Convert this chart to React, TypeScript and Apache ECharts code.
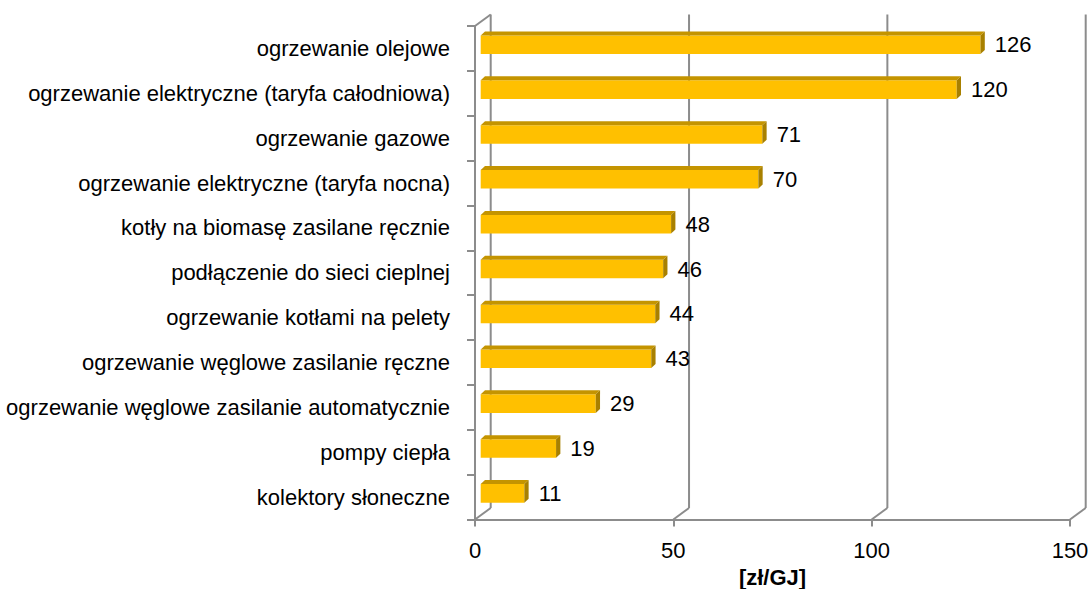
import React, { useEffect, useRef } from "react";
import * as echarts from "echarts";

const categories = [
  "ogrzewanie olejowe",
  "ogrzewanie elektryczne (taryfa całodniowa)",
  "ogrzewanie gazowe",
  "ogrzewanie elektryczne (taryfa nocna)",
  "kotły na biomasę zasilane ręcznie",
  "podłączenie do sieci cieplnej",
  "ogrzewanie kotłami na pelety",
  "ogrzewanie węglowe zasilanie ręczne",
  "ogrzewanie węglowe zasilanie automatycznie",
  "pompy ciepła",
  "kolektory słoneczne",
];
const values = [126, 120, 71, 70, 48, 46, 44, 43, 29, 19, 11];
const xTicks = [0, 50, 100, 150];
const axisTitle = "[zł/GJ]";

const FONT = "'Liberation Sans Narrow', 'Arial Narrow', 'Liberation Sans', Arial, sans-serif";
const FS = 22;
const LINE = "#8c8c8c";
const WALL_DX = 15.7;
const WALL_DY = -11.5;
const BAR_DX = 4.3;
const BAR_DY = -4;

export default function App() {
  const ref = useRef<HTMLDivElement>(null);
  useEffect(() => {
    if (!ref.current) return;
    const chart = echarts.init(ref.current, undefined, { renderer: "svg" });
    const option = {
      animation: false,
      backgroundColor: "#ffffff",
      grid: {
        left: 475,
        top: 26,
        width: 595,
        height: 493.5,
        containLabel: false,
        outerBoundsMode: "none",
      },
      xAxis: {
        type: "value",
        min: 0,
        max: 150,
        interval: 50,
        axisLine: { show: true, lineStyle: { color: LINE, width: 2 } },
        axisTick: { show: true, length: 7, lineStyle: { color: LINE, width: 2 } },
        splitLine: { show: false },
        axisLabel: { color: "#000", fontSize: FS, fontFamily: FONT, margin: 20 },
        name: axisTitle,
        nameLocation: "middle",
        nameGap: 47,
        nameMoveOverlap: false,
        nameTextStyle: { color: "#000", fontSize: 22, fontWeight: "bold", fontFamily: FONT },
      },
      yAxis: {
        type: "category",
        data: categories,
        inverse: true,
        axisLine: { show: true, lineStyle: { color: LINE, width: 2 } },
        axisTick: { show: true, length: 8, lineStyle: { color: LINE, width: 2 } },
        splitLine: { show: false },
        axisLabel: { color: "#000", fontSize: FS, fontFamily: FONT, margin: 25 },
      },
      series: [
        {
          type: "custom",
          z: 1,
          clip: false,
          silent: true,
          data: xTicks.map((v) => [v, 0]),
          encode: { x: 0, y: 1 },
          renderItem: (params: any, api: any) => {
            const cs = params.coordSys;
            const v = api.value(0);
            const x = api.coord([v, 0])[0];
            const top = cs.y;
            const bottom = cs.y + cs.height;
            const style = { stroke: LINE, lineWidth: 2, fill: "none" };
            const children: any[] = [
              { type: "line", shape: { x1: x + WALL_DX, y1: top + WALL_DY, x2: x + WALL_DX, y2: bottom + WALL_DY }, style },
              { type: "line", shape: { x1: x, y1: bottom, x2: x + WALL_DX, y2: bottom + WALL_DY }, style },
            ];
            if (v === 0) {
              children.push({ type: "line", shape: { x1: x, y1: top, x2: x + WALL_DX, y2: top + WALL_DY }, style });
            }
            return { type: "group", children };
          },
        },
        {
          type: "custom",
          z: 5,
          clip: false,
          silent: true,
          data: values.map((v, i) => [v, i]),
          encode: { x: 0, y: 1 },
          renderItem: (params: any, api: any) => {
            const v = api.value(0);
            const c = api.value(1);
            const p0 = api.coord([0, c]);
            const p1 = api.coord([v, c]);
            const band = api.size([0, 1])[1];
            const h = band * 0.414;
            const cy = p0[1] - 3.7;
            const x0 = p0[0] + 5.7;
            const x1 = p1[0] + 5.7;
            const yt = cy - h / 2;
            const yb = cy + h / 2;
            return {
              type: "group",
              children: [
                { type: "rect", shape: { x: x0, y: yt, width: x1 - x0, height: h }, style: { fill: "#FFC000" } },
                {
                  type: "polygon",
                  shape: { points: [[x0, yt], [x1, yt], [x1 + BAR_DX, yt + BAR_DY], [x0 + BAR_DX, yt + BAR_DY]] },
                  style: { fill: "#C49400" },
                },
                {
                  type: "polygon",
                  shape: { points: [[x1, yt], [x1 + BAR_DX, yt + BAR_DY], [x1 + BAR_DX, yb + BAR_DY], [x1, yb]] },
                  style: { fill: "#A88000" },
                },
                {
                  type: "text",
                  style: {
                    text: String(v),
                    x: x1 + BAR_DX + 10,
                    y: cy,
                    fill: "#000",
                    fontSize: FS,
                    fontFamily: FONT,
                    align: "left",
                    verticalAlign: "middle",
                  },
                },
              ],
            };
          },
        },
      ],
    };
    chart.setOption(option as any);
    return () => chart.dispose();
  }, []);
  return (
    <div
      ref={ref}
      style={{ position: "fixed", left: 0, top: 0, width: 1090, height: 589, background: "#fff" }}
    />
  );
}
